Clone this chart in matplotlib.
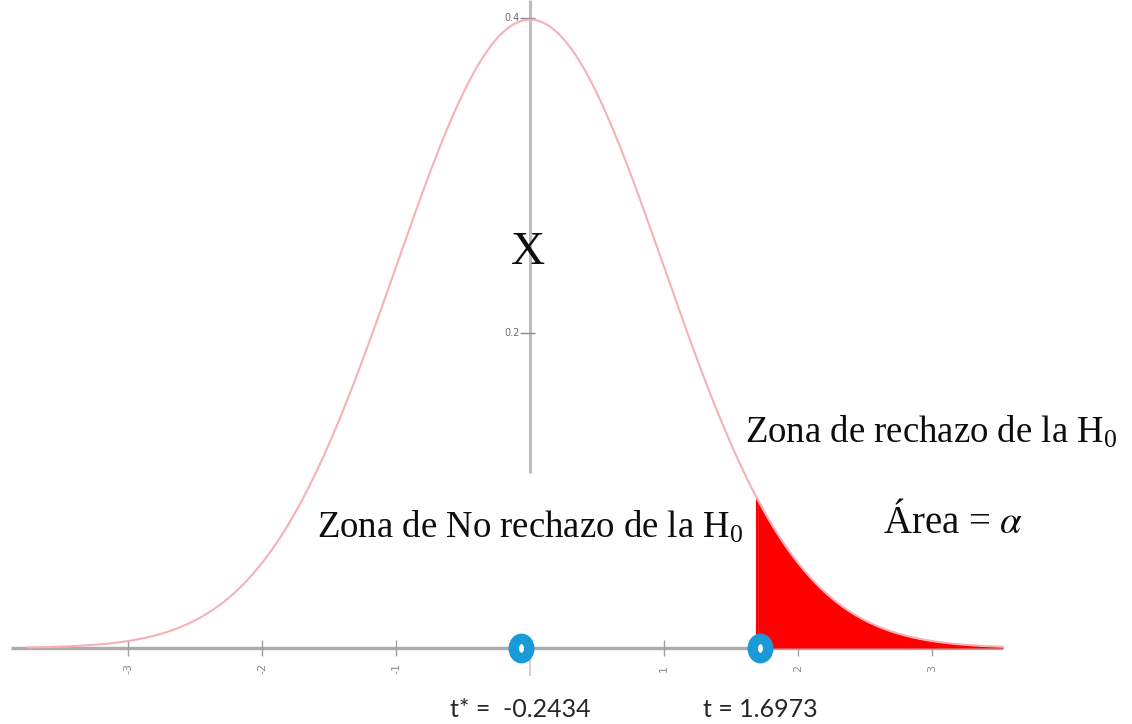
import numpy as np
import matplotlib
matplotlib.use("Agg")
import matplotlib.pyplot as plt
from matplotlib.path import Path
from matplotlib.transforms import Affine2D

# ---- data ----
curve_range = [-3.75, 3.53]          # extent of the drawn density curve
axis_range = [-3.87, 3.53]           # extent of the horizontal axis line
t_star = -0.2434                     # observed statistic (label)
t_crit = 1.6973                      # critical value (label / start of rejection zone)
marker_x = [-0.07, 1.72]             # where the blue rings sit on the axis
marker_labels = ["t* =  -0.2434", "t = 1.6973"]
xtick_vals = [-3, -2, -1, 1, 2, 3]
xtick_labels = ["-3", "-2", "-1", "1", "2", "3"]
ytick_vals = [0.2, 0.4]
ytick_labels = ["0.2", "0.4"]

W, H = 1132, 724
fig = plt.figure(figsize=(W / 100, H / 100), dpi=100)
ax = fig.add_axes([0, 0, 1, 1])
ax.axis("off")
# pixel layout: x=0 at px 530, 134 px per unit; y=0 at px 648, 1575 px per unit
ax.set_xlim(-530 / 134, (W - 530) / 134)
ax.set_ylim(-(H - 648) / 1575, 648 / 1575)

def pdf(x):
    return np.exp(-x ** 2 / 2) / np.sqrt(2 * np.pi)

xs = np.linspace(curve_range[0], curve_range[1], 800)

# horizontal axis
ax.hlines(0, axis_range[0], axis_range[1], color="#ababab", lw=2.4, zorder=1)
# vertical axis (interrupted as in the reference)
ax.vlines(0, (648 - 473) / 1575, 648 / 1575, color="#bdbdbd", lw=2.2, zorder=1)
ax.vlines(0, -0.018, 0, color="#c8c8c8", lw=1.2, zorder=1)

# x ticks
for tv, tl in zip(xtick_vals, xtick_labels):
    ax.vlines(tv, -0.005, 0.005, color="#a0a0a0", lw=1.0, zorder=1)
    ax.text(tv, -0.0127, tl, rotation=90, ha="center", va="center",
            fontsize=8, color="#8a8a8a", family="DejaVu Sans")
# y ticks
for yv, yl in zip(ytick_vals, ytick_labels):
    ax.hlines(yv, -0.075, 0.04, color="#8a8a8a", lw=1.0, zorder=1)
    ax.text(-0.08, yv, yl, ha="right", va="center", fontsize=7,
            color="#6a6a6a", family="DejaVu Sans")

# rejection region
xr = xs[xs >= t_crit]
ax.fill_between(xr, 0, pdf(xr), color="#ff0000", lw=0, zorder=2)
ax.vlines(t_crit, 0, pdf(t_crit), color="#ff0000", lw=1.5, zorder=2)

# density curve
ax.plot(xs, pdf(xs), color="#f7b0b7", lw=1.5, zorder=3)

# blue rings
ring = Path.unit_circle().transformed(Affine2D().scale(0.8, 1.0))
ax.plot(marker_x, [0, 0], ls="none", marker=ring, markersize=14,
        markerfacecolor="white", markeredgecolor="#1b9ad8",
        markeredgewidth=7.5, zorder=5)

# labels under the rings
for mx, ml in zip(marker_x, marker_labels):
    ax.text(mx, -(717 - 648) / 1575, ml, ha="center", va="baseline",
            fontsize=18, color="#262626", family="Lato")

plt.rcParams["mathtext.fontset"] = "stix"
serif = "Liberation Serif"

def fx(px):
    return px / W

def fy(py):
    return 1 - py / H

fig.text(fx(528), fy(264), "X", ha="center", va="baseline",
         fontsize=34, family=serif, color="#0d0d0d")
fig.text(fx(745), fy(443), r"Zona de rechazo de la $\mathregular{H_0}$",
         ha="left", va="baseline", fontsize=26.5, family=serif, color="#0d0d0d")
fig.text(fx(317), fy(538), r"Zona de No rechazo de la $\mathregular{H_0}$",
         ha="left", va="baseline", fontsize=26.5, family=serif, color="#0d0d0d")
fig.text(fx(883), fy(533), r"Área = $\alpha$",
         ha="left", va="baseline", fontsize=28, family=serif, color="#0d0d0d")

fig.savefig("out.png", dpi=100, facecolor="white")
